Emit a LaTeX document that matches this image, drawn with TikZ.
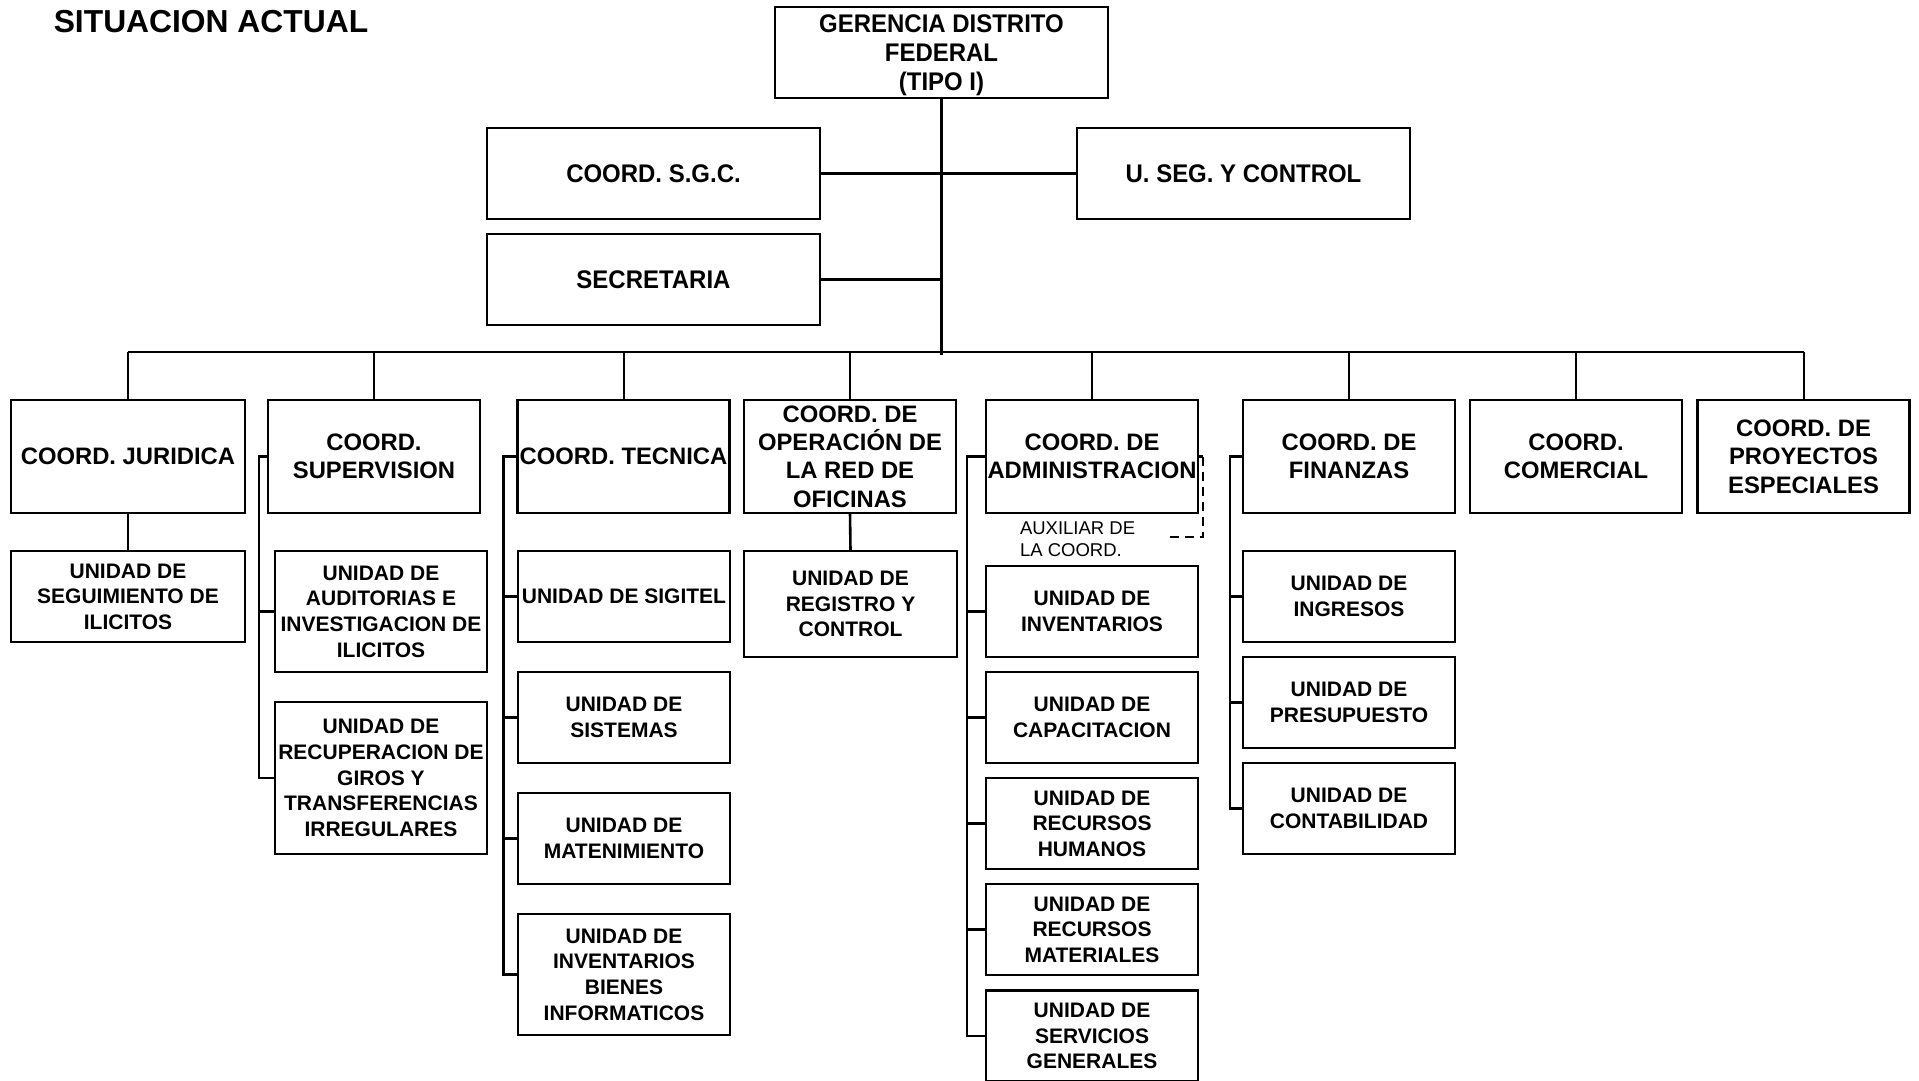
\documentclass[tikz,border=0pt]{standalone}
\usepackage{fontspec}
\setmainfont{Liberation Sans}
\newfontfamily\cnd{Liberation Sans}[FakeStretch=0.94]
\begin{document}
\begin{tikzpicture}[x=1pt,y=-1pt,
  every node/.style={inner sep=0pt, outer sep=0pt},
  boxbase/.style={draw, line width=2.6pt, fill=white, align=center},
  topbox/.style={boxbase, minimum width=333, minimum height=91,
    font=\cnd\bfseries\fontsize{25.5}{29.3}\selectfont},
  coordbox/.style={boxbase, minimum width=212, minimum height=113,
    font=\bfseries\fontsize{23.8}{28.3}\selectfont},
  unitbox/.style={boxbase, minimum width=212, minimum height=91,
    font=\bfseries\fontsize{21}{25.6}\selectfont},
  link/.style={line width=2.6pt},
  drop/.style={line width=2pt},
  auxlink/.style={line width=2.6pt, dash pattern=on 9pt off 6pt}
]
\useasboundingbox (0,0) rectangle (1919,1080);

% title
\node[font=\bfseries\fontsize{31.8}{36}\selectfont] (title) at (211,22) {SITUACION ACTUAL};

% top level
\node[topbox] (G) at (941.5,52.5) {GERENCIA DISTRITO\\FEDERAL\\\raisebox{0pt}[\height][0pt]{(TIPO I)}};
\node[topbox] (SGC) at (653.5,173.5) {COORD. S.G.C.};
\node[topbox] (USEG) at (1243.5,173.5) {U. SEG. Y CONTROL};
\node[topbox] (SEC) at (653.5,279.5) {SECRETARIA};

\coordinate (trunkend) at (941.5,355);
\coordinate (bus) at (941.5,352);

% coordinations
\node[coordbox, minimum width=234] (J) at (128,456.5) {COORD. JURIDICA};
\node[coordbox] (S) at (374,456.5) {COORD.\\SUPERVISION};
\node[coordbox] (T) at (623.5,456.5) {COORD. TECNICA};
\node[coordbox] (O) at (850,456.5) {COORD. DE\\OPERACIÓN DE\\LA RED DE\\OFICINAS};
\node[coordbox] (A) at (1092,456.5) {COORD. DE\\ADMINISTRACION};
\node[coordbox] (F) at (1349,456.5) {COORD. DE\\FINANZAS};
\node[coordbox] (C) at (1576,456.5) {COORD.\\COMERCIAL};
\node[coordbox] (P) at (1803.5,456.5) {COORD. DE\\PROYECTOS\\ESPECIALES};

% units
\node[unitbox, minimum width=234] (J1) at (128,596.5) {UNIDAD DE\\SEGUIMIENTO DE\\ILICITOS};

\node[unitbox, minimum height=121] (S1) at (381,611.5) {UNIDAD DE\\AUDITORIAS E\\INVESTIGACION DE\\ILICITOS};
\node[unitbox, minimum height=152] (S2) at (381,778) {UNIDAD DE\\RECUPERACION DE\\GIROS Y\\TRANSFERENCIAS\\IRREGULARES};

\node[unitbox] (T1) at (624,596.5) {UNIDAD DE SIGITEL};
\node[unitbox] (T2) at (624,717.5) {UNIDAD DE\\SISTEMAS};
\node[unitbox] (T3) at (624,838.5) {UNIDAD DE\\MATENIMIENTO};
\node[unitbox, minimum height=121] (T4) at (624,974.5) {UNIDAD DE\\INVENTARIOS\\BIENES\\INFORMATICOS};

\node[unitbox, minimum width=213, minimum height=106] (O1) at (850.5,604) {UNIDAD DE\\REGISTRO Y\\CONTROL};

\node[unitbox] (A1) at (1092,611.5) {UNIDAD DE\\INVENTARIOS};
\node[unitbox] (A2) at (1092,717.5) {UNIDAD DE\\CAPACITACION};
\node[unitbox] (A3) at (1092,823.5) {UNIDAD DE\\RECURSOS\\HUMANOS};
\node[unitbox] (A4) at (1092,929.5) {UNIDAD DE\\RECURSOS\\MATERIALES};
\node[unitbox] (A5) at (1092,1036) {UNIDAD DE\\SERVICIOS\\GENERALES};

\node[unitbox] (F1) at (1349,596.5) {UNIDAD DE\\INGRESOS};
\node[unitbox] (F2) at (1349,702.5) {UNIDAD DE\\PRESUPUESTO};
\node[unitbox] (F3) at (1349,808.5) {UNIDAD DE\\CONTABILIDAD};

% assistant of the administration coordination
\node[anchor=west, align=left, font=\fontsize{18.5}{21.5}\selectfont] (AUX) at (1020,539) {AUXILIAR DE\\LA COORD.};
\coordinate (auxend) at (1168,537);

% connectors: top level
\draw[link] (G.south) -- (trunkend);
\draw[link] (SGC.east) -- (USEG.west);
\draw[link] (SEC.east) -- (SEC.east -| G.south);
\draw[link] (bus -| J.north) -- (bus -| P.north);
\foreach \n in {J,S,T,O,A,F,C,P}
  \draw[drop] (bus -| \n.north) -- (\n.north);

% single child links
\draw[link] (J.south) -- (J1.north);
\draw[link] (O.south) -- (O1.north);

% brackets
\draw[link] (S.west) -- +(-9,0) |- (S2.west);
\draw[link] (S1.west) -- +(-16,0);

\draw[link] (T.west) -- +(-14,0) |- (T4.west);
\foreach \n in {T1,T2,T3}
  \draw[link] (\n.west) -- +(-14,0);

\draw[link] (A.west) -- +(-19,0) |- (A5.west);
\foreach \n in {A1,A2,A3,A4}
  \draw[link] (\n.west) -- +(-19,0);

\draw[link] (F.west) -- +(-13,0) |- (F3.west);
\foreach \n in {F1,F2}
  \draw[link] (\n.west) -- +(-13,0);

% dashed link to the assistant
\draw[link] (A.east) -- +(5,0);
\draw[auxlink] ([xshift=5pt]A.east) |- (auxend);
\end{tikzpicture}
\end{document}
